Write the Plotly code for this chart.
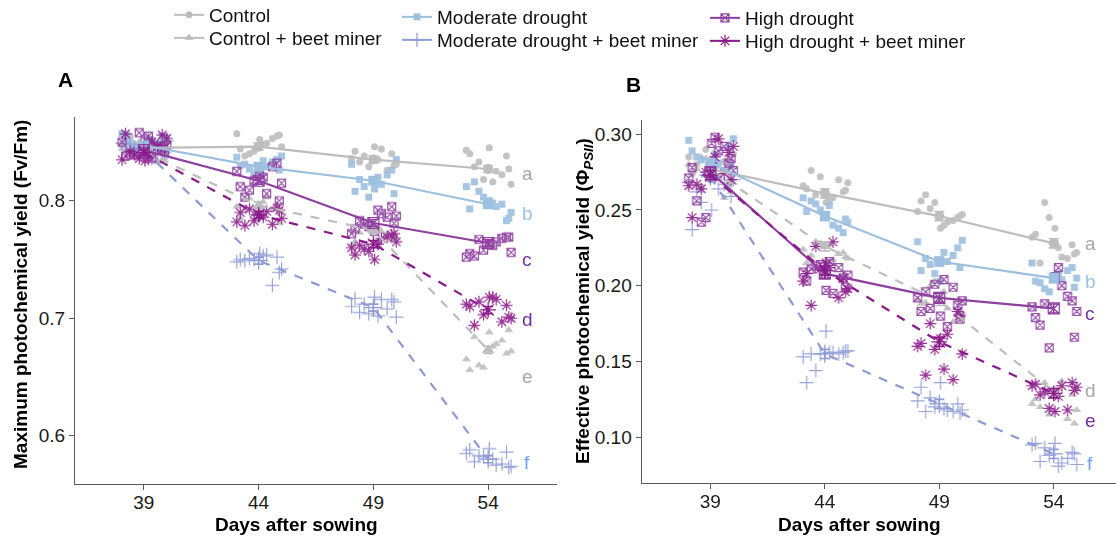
import plotly.graph_objects as go

W, H = 1116, 537
DAYS = [39, 44, 49, 54]
GROUPS = ["Control", "Control + beet miner", "Moderate drought",
          "Moderate drought + beet miner", "High drought", "High drought + beet miner"]
JITTER = [-0.95, 0.35, -0.2, 0.8, -0.6, 0.05, 1.0, -0.4, 0.6, -0.8, 0.2, 0.9]

# ---------------- Panel A : Fv/Fm (individual plants per day) ----------------
A_CTRL = [[0.848, 0.852, 0.841, 0.845, 0.855, 0.839, 0.850, 0.843, 0.847, 0.853, 0.844, 0.849],
          [0.857, 0.849, 0.842, 0.855, 0.838, 0.852, 0.846, 0.840, 0.853, 0.844, 0.848, 0.856],
          [0.836, 0.844, 0.829, 0.840, 0.833, 0.846, 0.831, 0.838, 0.826, 0.842, 0.835, 0.830],
          [0.843, 0.825, 0.818, 0.838, 0.829, 0.845, 0.814, 0.833, 0.822, 0.840, 0.816, 0.827]]
A_CBM = [[0.845, 0.838, 0.849, 0.833, 0.842, 0.847, 0.836, 0.844, 0.840, 0.850, 0.835, 0.843],
         [0.796, 0.790, 0.802, 0.793, 0.785, 0.799, 0.781, 0.795, 0.803, 0.788, 0.797, 0.792],
         [0.776, 0.768, 0.779, 0.772, 0.765, 0.777, 0.770, 0.762, 0.774, 0.778, 0.767, 0.773],
         [0.688, 0.672, 0.660, 0.681, 0.656, 0.676, 0.690, 0.665, 0.678, 0.658, 0.670, 0.684]]
A_MD = [[0.852, 0.845, 0.857, 0.848, 0.841, 0.855, 0.850, 0.843, 0.853, 0.846, 0.849, 0.856],
        [0.834, 0.826, 0.837, 0.829, 0.822, 0.835, 0.831, 0.824, 0.838, 0.827, 0.833, 0.830],
        [0.820, 0.806, 0.831, 0.814, 0.803, 0.826, 0.818, 0.810, 0.835, 0.812, 0.822, 0.808],
        [0.798, 0.785, 0.812, 0.795, 0.803, 0.783, 0.816, 0.800, 0.790, 0.808, 0.797, 0.793]]
A_MDBM = [[0.842, 0.848, 0.837, 0.851, 0.844, 0.839, 0.846, 0.853, 0.841, 0.849, 0.836, 0.845],
          [0.752, 0.749, 0.755, 0.742, 0.751, 0.728, 0.750, 0.753, 0.739, 0.748, 0.754, 0.750],
          [0.716, 0.705, 0.718, 0.701, 0.712, 0.708, 0.717, 0.702, 0.714, 0.710, 0.716, 0.704],
          [0.586, 0.578, 0.589, 0.574, 0.583, 0.576, 0.588, 0.580, 0.573, 0.585, 0.575, 0.582]]
A_HD = [[0.846, 0.838, 0.855, 0.842, 0.850, 0.836, 0.858, 0.844, 0.840, 0.852, 0.847, 0.839],
        [0.829, 0.812, 0.820, 0.800, 0.825, 0.806, 0.817, 0.832, 0.803, 0.822, 0.815, 0.809],
        [0.786, 0.776, 0.792, 0.781, 0.772, 0.789, 0.778, 0.795, 0.783, 0.774, 0.787, 0.780],
        [0.768, 0.755, 0.762, 0.769, 0.752, 0.765, 0.758, 0.769, 0.753, 0.763, 0.756, 0.767]]
A_HDBM = [[0.850, 0.836, 0.856, 0.842, 0.834, 0.853, 0.839, 0.847, 0.857, 0.837, 0.845, 0.835],
          [0.791, 0.783, 0.794, 0.779, 0.788, 0.785, 0.793, 0.780, 0.790, 0.786, 0.792, 0.782],
          [0.768, 0.757, 0.771, 0.762, 0.750, 0.765, 0.759, 0.769, 0.754, 0.763, 0.772, 0.760],
          [0.716, 0.703, 0.711, 0.694, 0.718, 0.700, 0.714, 0.697, 0.710, 0.718, 0.701, 0.712]]

A_MEAN_CTRL = [0.845, 0.846, 0.835, 0.827]
A_MEAN_CBM = [0.842, 0.796, 0.775, 0.673]
A_MEAN_MD = [0.847, 0.829, 0.817, 0.797]
A_MEAN_MDBM = [0.843, 0.749, 0.709, 0.580]
A_MEAN_HD = [0.843, 0.817, 0.781, 0.764]
A_MEAN_HDBM = [0.841, 0.788, 0.763, 0.707]
A_SE = [0.002, 0.003, 0.003, 0.003]
A_LETTERS = ["a", "e", "b", "f", "c", "d"]
A_LETTER_Y = [0.823, 0.650, 0.789, 0.577, 0.750, 0.699]

# ---------------- Panel B : PhiPSII ----------------
B_CTRL = [[0.285, 0.272, 0.290, 0.268, 0.280, 0.276, 0.287, 0.265, 0.282, 0.274, 0.278, 0.270],
          [0.266, 0.258, 0.272, 0.262, 0.276, 0.255, 0.268, 0.260, 0.270, 0.264, 0.257, 0.263],
          [0.249, 0.242, 0.255, 0.245, 0.260, 0.238, 0.247, 0.251, 0.243, 0.256, 0.240, 0.246],
          [0.232, 0.219, 0.245, 0.227, 0.215, 0.238, 0.222, 0.255, 0.218, 0.234, 0.225, 0.221]]
B_CBM = [[0.282, 0.268, 0.285, 0.258, 0.275, 0.279, 0.262, 0.280, 0.271, 0.284, 0.266, 0.277],
         [0.226, 0.218, 0.229, 0.221, 0.215, 0.227, 0.219, 0.224, 0.217, 0.228, 0.222, 0.220],
         [0.193, 0.182, 0.200, 0.176, 0.188, 0.196, 0.179, 0.191, 0.185, 0.203, 0.181, 0.189],
         [0.130, 0.118, 0.136, 0.112, 0.125, 0.132, 0.109, 0.122, 0.137, 0.115, 0.128, 0.120]]
B_MD = [[0.287, 0.279, 0.296, 0.281, 0.274, 0.292, 0.285, 0.270, 0.297, 0.283, 0.276, 0.289],
        [0.253, 0.244, 0.258, 0.240, 0.250, 0.235, 0.256, 0.247, 0.242, 0.254, 0.238, 0.249],
        [0.222, 0.212, 0.229, 0.216, 0.208, 0.225, 0.218, 0.203, 0.230, 0.214, 0.220, 0.210],
        [0.208, 0.199, 0.215, 0.204, 0.196, 0.212, 0.202, 0.228, 0.205, 0.198, 0.210, 0.203]]
B_MDBM = [[0.275, 0.262, 0.250, 0.270, 0.255, 0.267, 0.237, 0.272, 0.259, 0.268, 0.264, 0.273],
          [0.156, 0.155, 0.170, 0.157, 0.144, 0.155, 0.136, 0.156, 0.157, 0.153, 0.156, 0.155],
          [0.122, 0.117, 0.136, 0.118, 0.126, 0.117, 0.133, 0.119, 0.116, 0.124, 0.118, 0.120],
          [0.090, 0.084, 0.096, 0.082, 0.093, 0.086, 0.096, 0.081, 0.089, 0.095, 0.083, 0.088]]
B_HD = [[0.292, 0.278, 0.298, 0.284, 0.271, 0.289, 0.245, 0.281, 0.256, 0.294, 0.276, 0.242],
        [0.212, 0.203, 0.216, 0.199, 0.209, 0.195, 0.214, 0.205, 0.211, 0.197, 0.207, 0.213],
        [0.199, 0.183, 0.204, 0.178, 0.192, 0.173, 0.201, 0.187, 0.196, 0.180, 0.190, 0.185],
        [0.193, 0.179, 0.212, 0.166, 0.186, 0.200, 0.159, 0.190, 0.174, 0.206, 0.183, 0.188]]
B_HDBM = [[0.297, 0.275, 0.288, 0.267, 0.281, 0.292, 0.264, 0.274, 0.245, 0.285, 0.270, 0.266],
          [0.229, 0.211, 0.205, 0.187, 0.215, 0.198, 0.226, 0.192, 0.208, 0.212, 0.196, 0.203],
          [0.168, 0.158, 0.183, 0.141, 0.165, 0.155, 0.175, 0.138, 0.162, 0.145, 0.180, 0.160],
          [0.134, 0.119, 0.136, 0.128, 0.117, 0.133, 0.130, 0.118, 0.135, 0.127, 0.131, 0.134]]

B_MEAN_CTRL = [0.277, 0.261, 0.246, 0.228]
B_MEAN_CBM = [0.277, 0.226, 0.190, 0.130]
B_MEAN_MD = [0.281, 0.246, 0.216, 0.205]
B_MEAN_MDBM = [0.272, 0.155, 0.122, 0.089]
B_MEAN_HD = [0.275, 0.208, 0.192, 0.185]
B_MEAN_HDBM = [0.273, 0.210, 0.163, 0.129]
B_SE = [0.003, 0.003, 0.003, 0.003]
B_LETTERS = ["a", "d", "b", "f", "c", "e"]
B_LETTER_Y = [0.228, 0.131, 0.203, 0.083, 0.182, 0.111]

# ---------------- styles ----------------
COLORS = ["#BDBDBD", "#BDBDBD", "#9DBFE0", "#8E9AD5", "#8E3FA0", "#8B1A8B"]
SYMBOLS = ["circle", "triangle-up", "square", "cross-thin-open", "square-x-open", "asterisk-open"]
SIZES = [7, 8, 7, 10, 8, 10]
DASHES = ["solid", "dash", "solid", "dash", "solid", "dash"]
LETTER_COLORS = ["#A6A6A6", "#A6A6A6", "#9DC3E6", "#6FA0F0", "#7030A0", "#7030A0"]
FONT = "Liberation Sans, Arial, sans-serif"
# legend placement (left x px, top y px) for each group: 3 columns x 2 rows
LEG_X = [169, 169, 397, 397, 705, 705]
LEG_TOP = [-4, 19, -2, 21, -1, 22]

fig = go.Figure()

panels = [
    ("x", "y", [A_CTRL, A_CBM, A_MD, A_MDBM, A_HD, A_HDBM],
     [A_MEAN_CTRL, A_MEAN_CBM, A_MEAN_MD, A_MEAN_MDBM, A_MEAN_HD, A_MEAN_HDBM], A_SE),
    ("x2", "y2", [B_CTRL, B_CBM, B_MD, B_MDBM, B_HD, B_HDBM],
     [B_MEAN_CTRL, B_MEAN_CBM, B_MEAN_MD, B_MEAN_MDBM, B_MEAN_HD, B_MEAN_HDBM], B_SE),
]

def marker(k, size):
    open_sym = SYMBOLS[k].endswith("open")
    return dict(symbol=SYMBOLS[k], size=size, color=COLORS[k],
                line=dict(width=1.2 if open_sym else 0, color=COLORS[k]))

for xa, ya, pts, means, se in panels:
    for k in range(6):
        xs, ys = [], []
        for d, vals in zip(DAYS, pts[k]):
            for i, v in enumerate(vals):
                xs.append(d + JITTER[(i + 5 * k) % len(JITTER)])
                ys.append(v)
        fig.add_trace(go.Scatter(x=xs, y=ys, mode="markers", marker=marker(k, SIZES[k]),
                                 opacity=0.9, showlegend=False, xaxis=xa, yaxis=ya, hoverinfo="skip"))
    for k in range(6):
        fig.add_trace(go.Scatter(x=DAYS, y=means[k], mode="lines+markers",
                                 line=dict(color=COLORS[k], width=2.2, dash=DASHES[k]),
                                 marker=marker(k, SIZES[k] + 3),
                                 error_y=dict(type="data", array=se, color=COLORS[k], thickness=1.6, width=5),
                                 showlegend=False, xaxis=xa, yaxis=ya))

# legend-only entries, one legend box per entry (3 columns of 2)
legend_layout = {}
for k in range(6):
    lname = "legend" if k == 0 else f"legend{k + 1}"
    fig.add_trace(go.Scatter(x=[None], y=[None], mode="lines+markers", name=GROUPS[k],
                             line=dict(color=COLORS[k], width=2), marker=marker(k, SIZES[k]),
                             legend=lname, showlegend=True))
    legend_layout[lname] = dict(x=LEG_X[k] / W, y=1 - LEG_TOP[k] / H, xanchor="left", yanchor="top",
                                font=dict(family=FONT, size=19, color="#111111"),
                                bgcolor="rgba(0,0,0,0)")

axis_common = dict(showgrid=False, zeroline=False, showline=True, linecolor="#5a5a5a", linewidth=1.3,
                   ticks="outside", ticklen=5, tickcolor="#5a5a5a", tickwidth=1.2,
                   tickfont=dict(family=FONT, size=19, color="#1a1a1a"))

fig.update_layout(
    width=W, height=H, autosize=False,
    margin=dict(l=0, r=0, t=0, b=0, autoexpand=False),
    paper_bgcolor="white", plot_bgcolor="white",
    font=dict(family=FONT, size=19, color="#111111"),
    xaxis=dict(domain=[75 / W, 557 / W], range=[36, 57], tickvals=DAYS, anchor="y",
               ticklabelstandoff=-4, **axis_common),
    yaxis=dict(domain=[1 - 484.3 / H, 1 - 116.7 / H], range=[0.5586, 0.8715],
               tickvals=[0.6, 0.7, 0.8], ticktext=["0.6", "0.7", "0.8"], anchor="x", **axis_common),
    xaxis2=dict(domain=[641.7 / W, 1.0], range=[36, 56.72], tickvals=DAYS, anchor="y2",
                ticklabelstandoff=-4, **axis_common),
    yaxis2=dict(domain=[1 - 482.7 / H, 1 - 120 / H], range=[0.070, 0.3094],
                tickvals=[0.10, 0.15, 0.20, 0.25, 0.30],
                ticktext=["0.10", "0.15", "0.20", "0.25", "0.30"], anchor="x2", **axis_common),
    **legend_layout,
)

def pann(text, xpx, ypx, size, angle=0):
    return dict(text=text, x=xpx / W, y=1 - ypx / H, xref="paper", yref="paper",
                xanchor="center", yanchor="middle", textangle=angle, showarrow=False,
                font=dict(size=size, family=FONT, color="#000"))

ann = [
    pann("<b>A</b>", 65, 79, 21),
    pann("<b>B</b>", 633, 84, 21),
    pann("<b>Days after sowing</b>", 296, 524, 19),
    pann("<b>Days after sowing</b>", 860, 524, 19),
    pann("<b>Maximum photochemical yield (Fv/Fm)</b>", 20, 295, 19, -90),
    pann("<b>Effective photochemical yield (Φ<sub><i>PSII</i></sub>)</b>", 584, 301, 19, -90),
]
for k in range(6):
    ann.append(dict(text=A_LETTERS[k], x=55.7, y=A_LETTER_Y[k], xref="x", yref="y", showarrow=False,
                    xanchor="center", yanchor="middle",
                    font=dict(size=19, family=FONT, color=LETTER_COLORS[k])))
    ann.append(dict(text=B_LETTERS[k], x=55.6, y=B_LETTER_Y[k], xref="x2", yref="y2", showarrow=False,
                    xanchor="center", yanchor="middle",
                    font=dict(size=19, family=FONT, color=LETTER_COLORS[k])))
fig.update_layout(annotations=ann)

fig.write_html("out.html", config={"displayModeBar": False},
               post_script="document.body.style.margin='0';document.body.style.overflow='hidden';")
